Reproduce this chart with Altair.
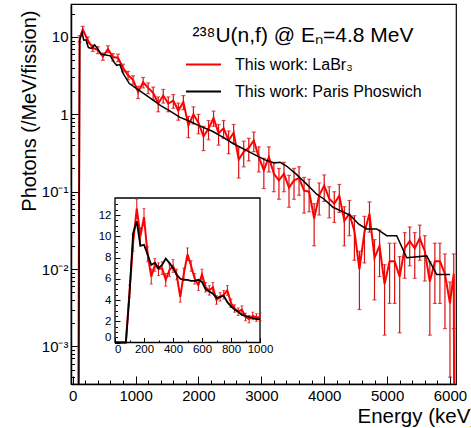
import altair as alt
import pandas as pd

W, H = 385, 380
ZERO = 1e-6          # stands for "0" on the log axis (falls below the frame, clipped)
FONT = "Liberation Sans"
RED = "#ff0000"
RED_BAR = "#d81010"

LAB_RED = "This work: LaBr₃"
LAB_BLACK = "This work: Paris Phoswich"
LEG_TITLE = "²³⁸U(n,f) @ Eₙ=4.8 MeV"

# ---------------- main spectrum: LaBr3 (red, with errors) ----------------
red_E = [110, 160, 240, 320, 400, 480, 560, 640, 720, 800, 880, 960,
         1040, 1120, 1200, 1280, 1360, 1440, 1520, 1600, 1680, 1760, 1840, 1920, 2000,
         2080, 2160, 2240, 2320, 2400, 2480, 2560, 2640, 2720, 2800, 2880, 2960, 3040,
         3120, 3200, 3280, 3360, 3440, 3520, 3600, 3680, 3760, 3840, 3920, 4000,
         4080, 4160, 4240, 4320, 4400, 4480, 4560, 4640, 4720, 4800, 4880, 4960,
         5040, 5120, 5200, 5280, 5360, 5440, 5520, 5600, 5680, 5760, 5840, 5920, 6000, 6060]
red_v = [9.5, 12.5, 9.1, 7.2, 6.8, 5.6, 7.0, 5.5, 5.4, 4.0, 3.2, 2.8,
         1.95, 2.6, 2.2, 1.9, 1.38, 1.75, 1.38, 1.5, 1.12, 1.45, 0.72, 1.0, 0.78,
         0.52, 0.65, 0.9, 0.57, 0.66, 0.46, 0.58, 0.26, 0.33, 0.37, 0.46, 0.28, 0.19,
         0.28, 0.17, 0.14, 0.17, 0.113, 0.14, 0.15, 0.103, 0.10, 0.045, 0.09, 0.12,
         0.081, 0.07, 0.089, 0.042, 0.052, 0.031, 0.010, 0.03, 0.052, 0.014, 0.02, 0.0064,
         0.0126, 0.0126, 0.008, 0.0186, 0.023, 0.0186, 0.025, 0.017, 0.0069, 0.0126, 0.0126, 0.0087, 0.0036, 0.0087]
red_err = [0.9, 1.2, 0.9, 0.7, 0.7, 0.6, 0.7, 0.6, 0.6, 0.45, 0.4, 0.35,
           0.35, 0.4, 0.35, 0.35, 0.3, 0.35, 0.3, 0.3, 0.28, 0.3, 0.22, 0.25, 0.22,
           0.18, 0.18, 0.2, 0.17, 0.17, 0.15, 0.16, 0.11, 0.12, 0.12, 0.13, 0.1, 0.08,
           0.1, 0.07, 0.06, 0.07, 0.05, 0.06, 0.06, 0.05, 0.045, 0.025, 0.04, 0.045,
           0.035, 0.03, 0.035, 0.022, 0.025, 0.018, 0.007, 0.018, 0.022, 0.01, 0.012, 0.005,
           0.009, 0.009, 0.0065, 0.011, 0.012, 0.011, 0.012, 0.01, 0.0055, 0.009, 0.009, 0.007, 0.0032, 0.007]
red_edges_E = [80, 6075]   # spectrum drops to zero here

# ---------------- main spectrum: Paris phoswich (black) ----------------
black_E = [90, 110, 150, 175, 210, 250, 300, 350, 400, 450, 550, 600, 650, 700, 750, 800, 900,
           1000, 1200, 1400, 1550, 1700, 1850, 2000, 2230, 2400, 2550, 2770, 2900, 3050,
           3200, 3300, 3400, 3550, 3700, 3880, 4000, 4140, 4300, 4420, 4550, 4675, 4835,
           4994, 5153, 5312, 5630, 5789, 6000]
black_v = [ZERO, 9.0, 11.4, 9.1, 9.2, 7.3, 7.1, 7.9, 7.0, 6.0, 5.8, 5.7, 4.8, 4.3, 4.4, 3.4, 2.5,
           2.2, 1.7, 1.3, 1.1, 0.92, 0.82, 0.72, 0.6, 0.5, 0.42, 0.34, 0.3, 0.26,
           0.235, 0.24, 0.215, 0.17, 0.13, 0.093, 0.08, 0.063, 0.055, 0.049, 0.038, 0.033, 0.033,
           0.027, 0.027, 0.014, 0.0148, 0.0085, 0.0085]

# ---------------- inset (0-1000 keV, linear) ----------------
inset_E = [0, 25, 50, 75, 100, 125, 150, 175, 200, 225, 250, 275, 300, 325, 350, 375, 400,
           425, 450, 475, 500, 525, 550, 575, 600, 625, 650, 675, 700, 725, 750, 775, 800,
           825, 850, 875, 900, 925, 950, 975, 1000]
inset_red = [0, 0, 0, 0, 4.8, 9.4, 12.6, 10.0, 11.8, 8.3, 6.2, 7.3, 6.9, 7.0, 5.9, 6.8, 7.2,
             6.4, 4.3, 6.5, 8.3, 7.2, 6.0, 5.4, 6.4, 5.2, 4.9, 5.2, 4.0, 4.3, 4.5, 4.9, 3.7,
             3.2, 2.9, 3.1, 2.4, 2.2, 2.5, 2.35, 2.4]
inset_red_err = [0, 0, 0, 0, 0.6, 0.8, 0.9, 0.8, 0.8, 0.7, 0.7, 0.6, 0.6, 0.6, 0.6, 0.6, 0.6,
                 0.5, 0.5, 0.5, 0.6, 0.5, 0.5, 0.5, 0.5, 0.45, 0.45, 0.45, 0.4, 0.4, 0.4, 0.45, 0.4,
                 0.35, 0.35, 0.35, 0.35, 0.35, 0.35, 0.35, 0.35]
inset_black = [0, 0, 0, 0, 4.5, 10.3, 11.4, 9.1, 9.2, 8.3, 7.3, 7.5, 7.0, 7.3, 7.9, 7.5, 7.0,
               6.4, 6.0, 5.9, 5.9, 5.8, 5.8, 5.9, 5.7, 5.0, 4.8, 4.6, 4.2, 4.3, 4.4, 3.8, 3.4,
               3.1, 2.9, 2.6, 2.5, 2.4, 2.3, 2.2, 2.2]
inset_x_labels = [200, 400, 600, 800, 1000]
inset_x_first = [0]          # first inset x label, drawn flush with the frame corner

# ---------------- tables ----------------
red_df = pd.DataFrame({"E": red_E, "v": red_v, "err": red_err})
red_df["lo"] = (red_df["v"] - red_df["err"]).clip(lower=ZERO)
red_df["hi"] = red_df["v"] + red_df["err"]
red_line_df = pd.concat([
    pd.DataFrame({"E": red_edges_E[:1], "v": [ZERO]}),
    red_df[["E", "v"]],
    pd.DataFrame({"E": red_edges_E[1:], "v": [ZERO]}),
], ignore_index=True)
red_line_df["series"] = LAB_RED
red_caps_df = pd.concat([red_df[["E"]].assign(c=red_df["lo"]),
                         red_df[["E"]].assign(c=red_df["hi"])], ignore_index=True)
black_df = pd.DataFrame({"E": black_E, "v": black_v, "series": LAB_BLACK})

in_df = pd.DataFrame({"E": inset_E, "r": inset_red, "err": inset_red_err, "b": inset_black})
in_err_df = in_df[in_df["err"] > 0].copy()
in_err_df["lo"] = in_err_df["r"] - in_err_df["err"]
in_err_df["hi"] = in_err_df["r"] + in_err_df["err"]
in_caps_df = pd.concat([in_err_df[["E"]].assign(c=in_err_df["lo"]),
                        in_err_df[["E"]].assign(c=in_err_df["hi"])], ignore_index=True)
in_lab0_df = pd.DataFrame({"E": inset_x_first, "y": [0] * len(inset_x_first),
                           "lab": [str(v) for v in inset_x_first]})

IN_X = [0, 1000]
IN_Y = [0, 13.6]
frame_df = pd.DataFrame({"x0": [IN_X[0]], "x1": [IN_X[1]], "y0": [IN_Y[0]], "y1": [IN_Y[1]]})

# ---------------- scales & axes ----------------
main_xs = alt.Scale(domain=[-27, 6096], nice=False, zero=False)
main_ys = alt.Scale(type="log", domain=[3.27e-4, 26.7], nice=False)
in_xs = alt.Scale(domain=IN_X, range=[44, 189], nice=False, zero=False)
in_ys = alt.Scale(domain=IN_Y, range=[338.5, 194], nice=False, zero=False)

ax_x = alt.Axis(orient="bottom", values=[0, 1000, 2000, 3000, 4000, 5000, 6000], format="d",
                ticks=False, labelPadding=4, labelFontSize=15, labelFlush=False, labelOverlap=False,
                domainColor="black", domainWidth=1.5, grid=False,
                title="Energy (keV)", titleFontSize=20.5, titleFontWeight="normal",
                titleX=286, titleY=38, titleAlign="left", titleBaseline="alphabetic")
ax_y = alt.Axis(orient="left", values=[0.001, 0.01, 0.1, 1, 10],
                labelExpr="datum.value > 5 ? '10' : datum.value > 0.5 ? '1' : datum.value > 0.05 ? '10⁻¹' : datum.value > 0.005 ? '10⁻²' : '10⁻³'",
                ticks=False, labelPadding=3, labelFontSize=15, labelOverlap=False, labelFlush=False,
                domainColor="black", domainWidth=1.5, grid=False,
                title="Photons (/MeV/fission)", titleFontSize=20, titleFontWeight="normal",
                titleX=-35.3, titleY=6, titleAngle=270, titleAlign="right", titleBaseline="alphabetic")

x_tick_vals = list(range(0, 6001, 200))
y_tick_vals = [k * 10.0 ** e for e in range(-4, 2) for k in range(1, 10) if 3.27e-4 <= k * 10.0 ** e <= 26.7]
ax_x_ticks = alt.Axis(orient="top", offset=-H, values=x_tick_vals, labels=False, domain=False,
                      tickColor="black", tickWidth=1, grid=False, title=None,
                      tickSize={"condition": {"test": "datum.value % 1000 === 0", "value": 8}, "value": 4})
ax_y_ticks = alt.Axis(orient="right", offset=-W, values=y_tick_vals, labels=False, domain=False,
                      tickColor="black", tickWidth=1, grid=False, title=None,
                      tickSize={"condition": {"test": "abs(log(datum.value)/LN10 - round(log(datum.value)/LN10)) < 0.001", "value": 7}, "value": 3.5})

in_ax_x = alt.Axis(orient="bottom", offset=-41.5, values=inset_x_labels, format="d",
                   ticks=False, labelPadding=1, labelFontSize=11.5, labelFlush=False,
                   labelOverlap=False, domain=False, grid=False, title=None, zindex=2)
in_ax_y = alt.Axis(orient="left", offset=-44, values=[0, 2, 4, 6, 8, 10, 12], format="d",
                   ticks=False, labelPadding=4, labelFontSize=11.5, labelFlush=True, labelOverlap=False,
                   domain=False, grid=False, title=None, zindex=2)
in_ax_x_ticks = alt.Axis(orient="top", offset=-338.5, values=list(range(0, 1001, 100)), labels=False,
                         domain=False, tickColor="black", tickWidth=1, grid=False, title=None, zindex=2,
                         tickSize={"condition": {"test": "datum.value % 200 === 0", "value": 5}, "value": 2.5})
in_ax_y_ticks = alt.Axis(orient="right", offset=-(W - 44), values=[i * 0.5 for i in range(0, 27)],
                         labels=False, domain=False, tickColor="black", tickWidth=1, grid=False, title=None, zindex=2,
                         tickSize={"condition": {"test": "datum.value % 2 === 0", "value": 5}, "value": 2.5})

col_scale = alt.Scale(domain=[LAB_RED, LAB_BLACK], range=[RED, "#000000"])
legend = alt.Legend(title=LEG_TITLE, orient="none", legendX=114, legendY=21, direction="vertical",
                    symbolType="stroke", symbolSize=1225, symbolStrokeWidth=2,
                    labelFontSize=16, labelFont=FONT, labelColor="black", labelLimit=400,
                    titleFontSize=21, titleFontWeight="normal", titleFont=FONT, titleColor="black",
                    titleLimit=400, titleAnchor="middle", titlePadding=0, rowPadding=-7,
                    labelOffset=13, padding=0)

# ---------------- main panel ----------------
mx = lambda f: alt.X(f, scale=main_xs, axis=ax_x)
my = lambda f: alt.Y(f, scale=main_ys, axis=ax_y)

m_bars = alt.Chart(red_df).mark_rule(color=RED_BAR, strokeWidth=1.2, clip=True).encode(
    x=mx("E:Q"), y=my("lo:Q"), y2="hi:Q")
m_caps = alt.Chart(red_caps_df).mark_tick(color=RED_BAR, orient="horizontal", size=4,
                                          thickness=1.2, clip=True).encode(x=mx("E:Q"), y=my("c:Q"))
m_red = alt.Chart(red_line_df).mark_line(strokeWidth=2, clip=True).encode(
    x=mx("E:Q"), y=my("v:Q"), color=alt.Color("series:N", scale=col_scale, legend=legend))
m_black = alt.Chart(black_df).mark_line(strokeWidth=1.5, clip=True).encode(
    x=mx("E:Q"), y=my("v:Q"), color=alt.Color("series:N", scale=col_scale, legend=legend))
main = alt.layer(m_bars, m_caps, m_red, m_black)

main_ticks = alt.Chart(black_df).mark_point(opacity=0).encode(
    x=alt.X("E:Q", scale=main_xs, axis=ax_x_ticks),
    y=alt.Y("v:Q", scale=main_ys, axis=ax_y_ticks))

# ---------------- inset panel ----------------
ix = lambda f: alt.X(f, scale=in_xs, axis=in_ax_x)
iy = lambda f: alt.Y(f, scale=in_ys, axis=in_ax_y)

i_frame = alt.Chart(frame_df).mark_rect(fill="white", stroke="black", strokeWidth=1.3).encode(
    x=ix("x0:Q"), x2="x1:Q", y=iy("y0:Q"), y2="y1:Q")
i_bars = alt.Chart(in_err_df).mark_rule(color=RED_BAR, strokeWidth=1).encode(
    x=ix("E:Q"), y=iy("lo:Q"), y2="hi:Q")
i_caps = alt.Chart(in_caps_df).mark_tick(color=RED_BAR, orient="horizontal", size=3,
                                         thickness=1).encode(x=ix("E:Q"), y=iy("c:Q"))
i_red = alt.Chart(in_df).mark_line(color=RED, strokeWidth=2).encode(x=ix("E:Q"), y=iy("r:Q"))
i_black = alt.Chart(in_df).mark_line(color="black", strokeWidth=1.8).encode(x=ix("E:Q"), y=iy("b:Q"))
i_lab0 = alt.Chart(in_lab0_df).mark_text(align="left", baseline="top", dy=1, fontSize=11.5,
                                         font=FONT, color="black").encode(
    x=ix("E:Q"), y=iy("y:Q"), text="lab:N")
inset = alt.layer(i_frame, i_bars, i_caps, i_red, i_black, i_lab0)

inset_ticks = alt.Chart(in_df).mark_point(opacity=0).encode(
    x=alt.X("E:Q", scale=in_xs, axis=in_ax_x_ticks),
    y=alt.Y("b:Q", scale=in_ys, axis=in_ax_y_ticks))

chart = (
    alt.layer(main, main_ticks, inset, inset_ticks)
    .resolve_scale(x="independent", y="independent")
    .properties(width=W, height=H,
                autosize=alt.AutoSizeParams(type="none"),
                padding={"left": 71, "top": 4, "right": 15, "bottom": 44})
    .configure(font=FONT, background="white")
    .configure_view(stroke="black", strokeWidth=1.2)
    .configure_axis(labelColor="black", titleColor="black", labelFont=FONT, titleFont=FONT)
)

chart.save("out.html", embed_options={"renderer": "svg", "actions": False})
